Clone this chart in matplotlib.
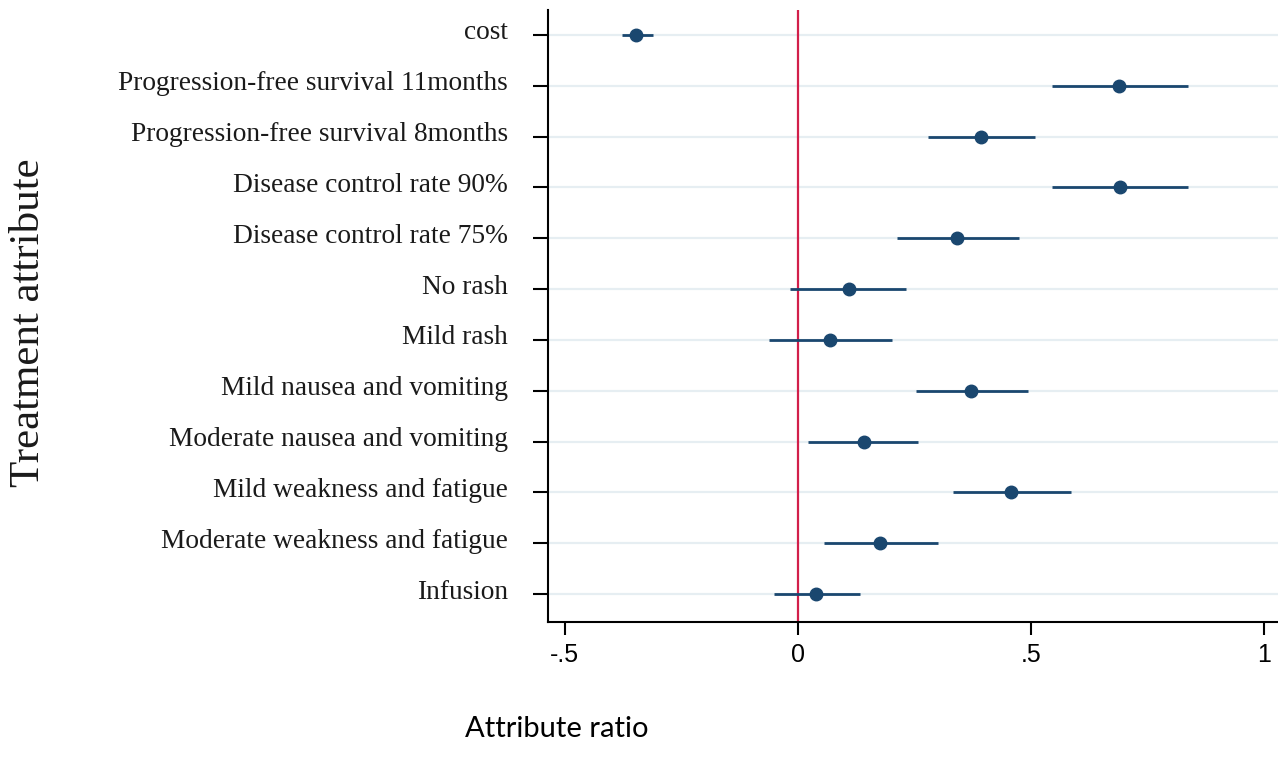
import matplotlib
matplotlib.use("Agg")
import matplotlib.pyplot as plt
import matplotlib.transforms as mtransforms
import numpy as np

attributes = [
    "cost",
    "Progression-free survival 11months",
    "Progression-free survival 8months",
    "Disease control rate 90%",
    "Disease control rate 75%",
    "No rash",
    "Mild rash",
    "Mild nausea and vomiting",
    "Moderate nausea and vomiting",
    "Mild weakness and fatigue",
    "Moderate weakness and fatigue",
    "Infusion",
]
estimate = [-0.348, 0.689, 0.393, 0.690, 0.341, 0.109, 0.069, 0.371, 0.142, 0.457, 0.176, 0.039]
ci_low = [-0.377, 0.545, 0.279, 0.545, 0.212, -0.017, -0.062, 0.253, 0.021, 0.333, 0.056, -0.052]
ci_high = [-0.311, 0.836, 0.509, 0.836, 0.474, 0.232, 0.203, 0.494, 0.257, 0.586, 0.300, 0.133]
xticks = [-0.5, 0, 0.5, 1]
xticklabels = ["-.5", "0", ".5", "1"]

navy = "#1a476f"
red = "#d21f4a"

fig = plt.figure(figsize=(12.78, 7.58), dpi=100)
ax = fig.add_axes([548 / 1278, 1 - 622 / 758, (1278 - 548) / 1278, (622 - 10) / 758])

n = len(attributes)
y = np.arange(n)

for yi in y:
    ax.axhline(yi, color="#e6eef2", lw=1.6, zorder=0)

ax.axvline(0, color=red, lw=1.6, zorder=1)
ax.hlines(y, ci_low, ci_high, color=navy, lw=2.0, zorder=2)
ax.plot(estimate, y, "o", color=navy, ms=9, zorder=3)

ax.set_ylim(n - 1 + 0.55, -0.49)
ax.set_xlim(-0.536, 1.03)
ax.set_yticks(y)
ax.set_yticklabels(attributes, fontfamily="Liberation Serif", fontsize=19.7, color="#1a1a1a")
ax.set_xticks(xticks)
ax.set_xticklabels(xticklabels, fontfamily="Liberation Sans", fontsize=18)
ax.tick_params(axis="y", length=11, width=1.5, pad=18)
ax.tick_params(axis="x", length=9, width=1.5, pad=6)

# shift y tick labels up slightly (baseline sits near the tick in the reference)
offset = mtransforms.ScaledTranslation(0, 5 / 100, fig.dpi_scale_trans)
for lab in ax.get_yticklabels():
    lab.set_transform(lab.get_transform() + offset)

for s in ["top", "right"]:
    ax.spines[s].set_visible(False)
for s in ["left", "bottom"]:
    ax.spines[s].set_linewidth(1.5)

fig.text(557 / 1278, 1 - 729 / 758, "Attribute ratio", fontfamily="Lato",
         fontsize=21, ha="center", va="center")
fig.text(29 / 1278, 1 - 323 / 758, "Treatment attribute", fontfamily="Liberation Serif",
         fontsize=31, ha="center", va="center", rotation=90, color="#1a1a1a")

fig.savefig("out.png", dpi=100)
